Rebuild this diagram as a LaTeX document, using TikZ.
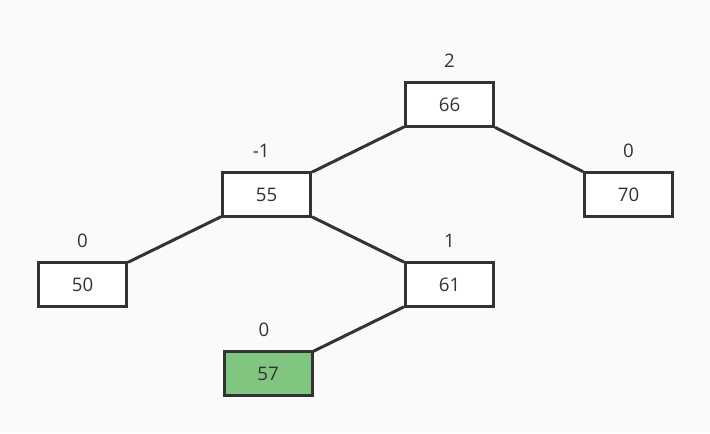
\documentclass[tikz,border=0pt]{standalone}
\usepackage{fontspec}
\setmainfont{Open Sans}
\usepackage{tikz}
\usetikzlibrary{positioning}

\definecolor{bgc}{RGB}{250,250,250}
\definecolor{edgec}{RGB}{51,51,51}
\definecolor{newc}{RGB}{128,198,128}

\begin{document}
\begin{tikzpicture}[x=0.75pt, y=-0.75pt,
    keynode/.style={draw=edgec, line width=2.25pt, fill=white,
                    minimum width=66pt, minimum height=32.5pt,
                    inner sep=0pt, font=\fontsize{14}{16}\selectfont, text=edgec},
    bfnode/.style={inner sep=0pt, font=\fontsize{14}{16}\selectfont, text=edgec},
    link/.style={draw=edgec, line width=2.25pt}]

  %--- Canvas
  \fill[bgc] (0,0) rectangle (710,433);

  %--- Tree nodes
  \node[keynode] (n66) at (449.5,104.5) {66};
  \node[keynode] (n55) at (266.5,194.5) {55};
  \node[keynode] (n70) at (628.5,194.5) {70};
  \node[keynode] (n50) at (82.5,284.5) {50};
  \node[keynode] (n61) at (449.5,284.5) {61};
  \node[keynode, fill=newc] (n57) at (268,373.5) {57};

  %--- Balance factors
  \node[bfnode] (b66) at ([yshift=15.75pt]n66.north) {2};
  \node[bfnode] (b55) at ([xshift=-4pt,yshift=15.75pt]n55.north) {-1};
  \node[bfnode] (b70) at ([yshift=15.75pt]n70.north) {0};
  \node[bfnode] (b50) at ([yshift=15.75pt]n50.north) {0};
  \node[bfnode] (b61) at ([yshift=15.75pt]n61.north) {1};
  \node[bfnode] (b57) at ([xshift=-3pt,yshift=15.75pt]n57.north) {0};

  %--- Edges
  \draw[link] (n66) -- (n55);
  \draw[link] (n66) -- (n70);
  \draw[link] (n55) -- (n50);
  \draw[link] (n55) -- (n61);
  \draw[link] (n61) -- (n57);

\end{tikzpicture}
\end{document}
